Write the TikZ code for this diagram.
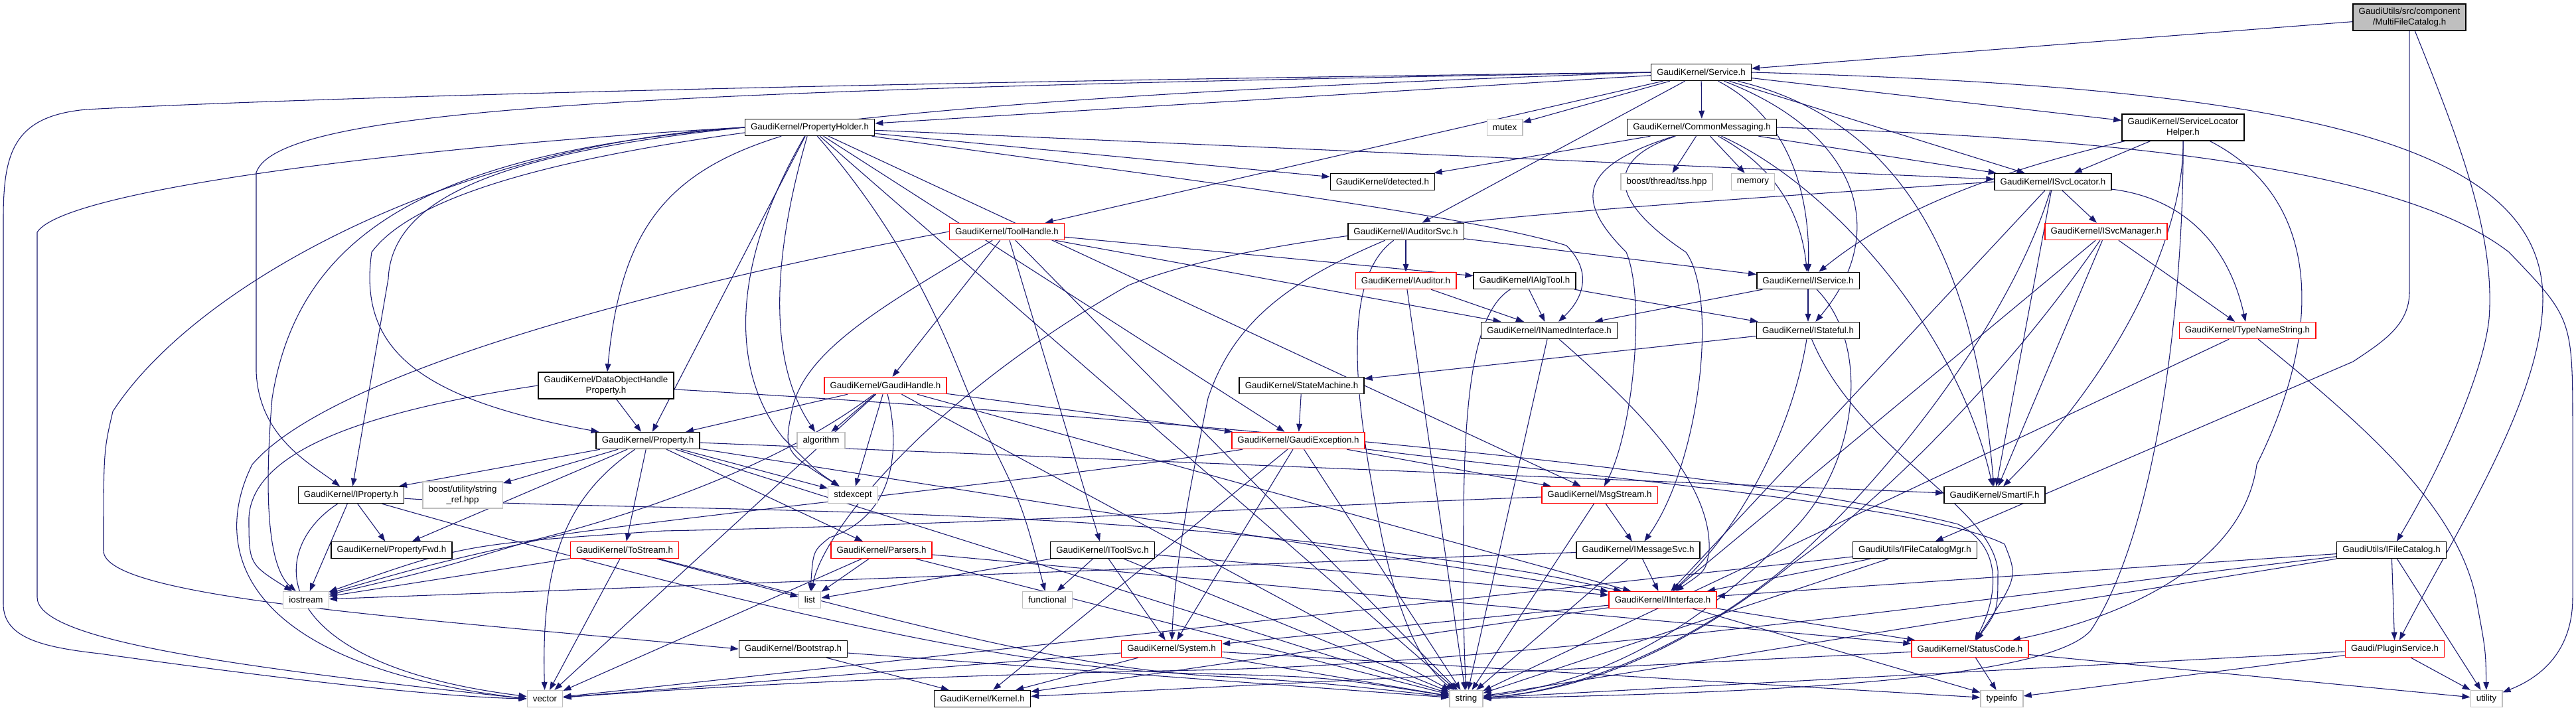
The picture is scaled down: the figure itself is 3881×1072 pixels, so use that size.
\documentclass[tikz,border=0pt]{standalone}
\usepackage{fontspec}
\setmainfont{Liberation Sans}
\usetikzlibrary{arrows.meta}
\definecolor{edgecol}{HTML}{191970}
\definecolor{syscol}{HTML}{BFBFBF}
\definecolor{rootfill}{HTML}{BFBFBF}
\definecolor{trunc}{HTML}{FF0000}
\pgfdeclarelayer{bg}
\pgfsetlayers{bg,main}
\begin{document}
\begin{tikzpicture}[x=0.75pt,y=-0.75pt,
  hbox/.style={draw=black,line width=1.1pt,fill=white,font=\fontsize{10}{12}\selectfont,
    inner xsep=6.5pt,inner ysep=1pt,minimum height=18.75pt,align=center},
  redbox/.style={hbox,draw=trunc},
  sysbox/.style={hbox,draw=syscol,line width=1pt},
  rootbox/.style={hbox,fill=rootfill},
  twoline/.style={minimum height=30pt},
  edge/.style={draw=edgecol,line width=0.8pt,-{Triangle[length=9pt,width=6.5pt]}}]
\useasboundingbox (0,0) rectangle (3881,1072);
% nodes
\node[rootbox,twoline] (mfc) at (3630,26) {GaudiUtils/src/component\\/MultiFileCatalog.h};
\node[hbox] (service) at (2563,109) {GaudiKernel/Service.h};
\node[hbox] (propholder) at (1220,192) {GaudiKernel/PropertyHolder.h};
\node[sysbox] (mutex) at (2267,192) {mutex};
\node[hbox] (commsg) at (2564,192) {GaudiKernel/CommonMessaging.h};
\node[hbox,twoline] (slh) at (3289,192) {GaudiKernel/ServiceLocator\\Helper.h};
\node[hbox] (detected) at (2083,274) {GaudiKernel/detected.h};
\node[sysbox] (tss) at (2511,274) {boost/thread/tss.hpp};
\node[sysbox] (memory) at (2641,274) {memory};
\node[hbox] (isvcloc) at (3093,274) {GaudiKernel/ISvcLocator.h};
\node[redbox] (toolhandle) at (1517,349) {GaudiKernel/ToolHandle.h};
\node[hbox] (iauditorsvc) at (2118,349) {GaudiKernel/IAuditorSvc.h};
\node[redbox] (isvcmgr) at (3173,349) {GaudiKernel/ISvcManager.h};
\node[redbox] (iauditor) at (2118,423) {GaudiKernel/IAuditor.h};
\node[hbox] (ialgtool) at (2297,423) {GaudiKernel/IAlgTool.h};
\node[hbox] (iservice) at (2724,423) {GaudiKernel/IService.h};
\node[hbox] (inamed) at (2334,498) {GaudiKernel/INamedInterface.h};
\node[hbox] (istateful) at (2724,498) {GaudiKernel/IStateful.h};
\node[redbox] (typename) at (3386,498) {GaudiKernel/TypeNameString.h};
\node[hbox,twoline] (dohp) at (913,581) {GaudiKernel/DataObjectHandle\\Property.h};
\node[redbox] (gaudihandle) at (1334,581) {GaudiKernel/GaudiHandle.h};
\node[hbox] (statemachine) at (1961,581) {GaudiKernel/StateMachine.h};
\node[hbox] (property) at (976,664) {GaudiKernel/Property.h};
\node[sysbox] (algorithm) at (1237,664) {algorithm};
\node[redbox] (gexception) at (1956,664) {GaudiKernel/GaudiException.h};
\node[hbox] (iproperty) at (529,746) {GaudiKernel/IProperty.h};
\node[sysbox,twoline] (stringref) at (697,746) {boost/utility/string\\\_ref.hpp};
\node[sysbox] (stdexcept) at (1285,746) {stdexcept};
\node[redbox] (msgstream) at (2410,746) {GaudiKernel/MsgStream.h};
\node[hbox] (smartif) at (3005,746) {GaudiKernel/SmartIF.h};
\node[hbox] (propfwd) at (590,829) {GaudiKernel/PropertyFwd.h};
\node[redbox] (tostream) at (941,829) {GaudiKernel/ToStream.h};
\node[redbox] (parsers) at (1328,829) {GaudiKernel/Parsers.h};
\node[hbox] (itoolsvc) at (1661,829) {GaudiKernel/IToolSvc.h};
\node[hbox] (imsgsvc) at (2468,829) {GaudiKernel/IMessageSvc.h};
\node[hbox] (ifcmgr) at (2885,829) {GaudiUtils/IFileCatalogMgr.h};
\node[hbox] (ifilecat) at (3603,829) {GaudiUtils/IFileCatalog.h};
\node[sysbox] (iostream) at (461,904) {iostream};
\node[sysbox] (list) at (1220,904) {list};
\node[sysbox] (functional) at (1578,904) {functional};
\node[redbox] (iinterface) at (2505,904) {GaudiKernel/IInterface.h};
\node[hbox] (bootstrap) at (1195,978) {GaudiKernel/Bootstrap.h};
\node[redbox] (system) at (1765,978) {GaudiKernel/System.h};
\node[redbox] (statuscode) at (2968,978) {GaudiKernel/StatusCode.h};
\node[redbox] (pluginsvc) at (3608,978) {Gaudi/PluginService.h};
\node[sysbox] (vector) at (821,1053) {vector};
\node[hbox] (kernel) at (1480,1053) {GaudiKernel/Kernel.h};
\node[sysbox] (string) at (2209,1053) {string};
\node[sysbox] (typeinfo) at (3016,1053) {typeinfo};
\node[sysbox] (utility) at (3746,1053) {utility};
% edges
\begin{pgfonlayer}{bg}
\fill[white] (0,0) rectangle (3881,1072);
\foreach \a/\b in {mfc/service,
  service/propholder,service/mutex,service/commsg,service/iauditorsvc,service/toolhandle,
  service/isvcloc,service/slh,
  propholder/property,propholder/string,propholder/detected,propholder/isvcloc,
  propholder/gexception,propholder/msgstream,
  commsg/detected,commsg/tss,commsg/memory,commsg/isvcloc,
  slh/isvcloc,
  isvcloc/iinterface,isvcloc/isvcmgr,isvcloc/smartif,
  isvcmgr/iinterface,isvcmgr/smartif,isvcmgr/typename,
  typename/string,
  toolhandle/gaudihandle,toolhandle/itoolsvc,toolhandle/string,
  toolhandle/inamed,toolhandle/ialgtool,
  iauditorsvc/iauditor,iauditorsvc/iservice,
  iauditor/inamed,iauditor/string,
  ialgtool/inamed,ialgtool/istateful,
  iservice/inamed,iservice/istateful,
  istateful/statemachine,
  inamed/string,
  statemachine/gexception,
  gaudihandle/property,gaudihandle/vector,gaudihandle/algorithm,
  gaudihandle/stdexcept,gaudihandle/string,gaudihandle/iinterface,gaudihandle/gexception,
  dohp/property,
  property/iproperty,property/stringref,property/propfwd,property/tostream,
  property/smartif,property/iinterface,property/parsers,property/stdexcept,property/string,
  iproperty/iostream,iproperty/propfwd,
  tostream/iostream,tostream/vector,tostream/list,
  parsers/list,parsers/vector,parsers/string,parsers/statuscode,
  itoolsvc/list,itoolsvc/functional,itoolsvc/string,itoolsvc/system,itoolsvc/iinterface,
  bootstrap/kernel,bootstrap/string,
  system/vector,system/kernel,system/string,system/typeinfo,
  gexception/kernel,gexception/system,gexception/string,gexception/msgstream,
  msgstream/string,msgstream/imsgsvc,
  imsgsvc/iinterface,imsgsvc/string,imsgsvc/iostream,
  ifcmgr/iinterface,ifcmgr/string,ifcmgr/vector,
  ifilecat/iinterface,ifilecat/string,ifilecat/pluginsvc,ifilecat/utility,
  pluginsvc/string,pluginsvc/typeinfo,pluginsvc/utility,
  statuscode/utility,statuscode/kernel,statuscode/typeinfo,
  iinterface/kernel,iinterface/system,iinterface/statuscode,iinterface/typeinfo}
  \draw[edge] (\a) -- (\b);
% routed edges: upper right
\draw[edge] (service) .. controls (2700,180) and (2727,300) .. (iservice);
\draw[edge] (service) .. controls (2800,200) and (2850,350) .. (istateful);
\draw[edge] (commsg) .. controls (2690,260) and (2715,340) .. (iservice);
\draw[edge] (service) .. controls (2900,190) and (2980,450) .. (smartif);
\draw[edge] (commsg) .. controls (2760,280) and (2950,500) .. (smartif);
\draw[edge] (commsg) .. controls (2420,240) and (2420,300) .. (2540,380)
  .. controls (2590,450) and (2560,700) .. (imsgsvc);
\draw[edge] (commsg) .. controls (2380,250) and (2370,300) .. (2450,380)
  .. controls (2480,450) and (2460,650) .. (msgstream);
\draw[edge] (slh) .. controls (3000,260) and (2850,320) .. (iservice);
\draw[edge] (slh) .. controls (3290,350) and (3200,550) .. (smartif);
\draw[edge] (slh) .. controls (3290,450) and (3250,800) .. (3150,950)
  .. controls (3080,1030) and (2600,1045) .. (string);
\draw[edge] (slh) .. controls (3500,300) and (3500,500) .. (3400,700)
  .. controls (3380,850) and (3200,930) .. (statuscode);
\draw[edge] (isvcloc) .. controls (3300,300) and (3360,380) .. (typename);
\draw[edge] (isvcloc) .. controls (3040,450) and (2900,650) .. (2750,800)
  .. controls (2600,950) and (2400,1040) .. (string);
\draw[edge] (isvcmgr) .. controls (3000,600) and (2800,780) .. (2700,850)
  .. controls (2550,970) and (2400,1040) .. (string);
\draw[edge] (typename) .. controls (3560,640) and (3700,760) .. (3730,900)
  .. controls (3745,980) .. (utility);
\draw[edge] (istateful) .. controls (2700,650) and (2620,800) .. (iinterface);
\draw[edge] (istateful) .. controls (2800,680) and (3000,760) .. (3010,860)
  .. controls (3010,920) .. (statuscode);
\draw[edge] (iservice) .. controls (2820,520) and (2800,700) .. (2700,800)
  .. controls (2550,960) and (2400,1030) .. (string);
\draw[edge] (inamed) .. controls (2450,600) and (2580,720) .. (2575,830)
  .. controls (2570,860) .. (iinterface);
\draw[edge] (ialgtool) .. controls (2220,470) and (2205,600) .. (2205,800)
  .. controls (2205,950) .. (string);
\draw[edge] (iauditorsvc) .. controls (1950,420) and (1860,480) .. (1820,600)
  .. controls (1790,750) and (1770,850) .. (system);
\draw[edge] (iauditorsvc) .. controls (2020,420) and (2040,600) .. (2080,800)
  .. controls (2110,950) and (2150,1010) .. (string);
\draw[edge] (gexception) .. controls (2400,720) and (2900,760) .. (3020,820)
  .. controls (3040,870) .. (statuscode);
\draw[edge] (dohp) .. controls (1600,620) and (2600,700) .. (2950,790)
  .. controls (3030,830) and (3000,920) .. (statuscode);
% routed edges: middle and left
\draw[edge] (propholder) .. controls (1700,260) and (2200,320) .. (2360,370)
  .. controls (2400,410) and (2385,450) .. (inamed);
\draw[edge] (propholder) .. controls (1400,400) and (1440,560) .. (1480,640)
  .. controls (1540,760) .. (functional);
\draw[edge] (propholder) .. controls (1100,400) and (1100,560) .. (1180,660)
  .. controls (1230,710) .. (stdexcept);
\draw[edge] (propholder) .. controls (1160,400) and (1160,550) .. (algorithm);
\draw[edge] (toolhandle) .. controls (1350,450) and (1220,520) .. (1195,610)
  .. controls (1180,680) .. (stdexcept);
\draw[edge] (gaudihandle) .. controls (1360,690) and (1340,780) .. (1250,810)
  .. controls (1225,830) .. (list);
\draw[edge] (gaudihandle) .. controls (1150,720) and (900,790) .. (800,815)
  .. controls (650,860) .. (iostream);
\draw[edge] (gexception) .. controls (1600,720) and (1100,770) .. (850,805)
  .. controls (650,850) .. (iostream);
\draw[edge] (msgstream) .. controls (2000,760) and (1500,790) .. (1000,800)
  .. controls (700,820) .. (iostream);
\draw[edge] (property) .. controls (850,750) and (815,850) .. (vector);
\draw[edge] (iproperty) .. controls (400,830) and (400,1000) .. (vector);
\draw[edge] (iproperty) .. controls (900,770) and (1500,760) .. (2000,820)
  .. controls (2300,860) .. (iinterface);
\draw[edge] (iproperty) .. controls (1000,880) and (1500,1010) .. (1800,1015)
  .. controls (2000,1020) .. (string);
\draw[edge] (tostream) .. controls (1300,920) and (1600,1010) .. (1850,1020)
  .. controls (2000,1030) .. (string);
\draw[edge] (ifilecat) .. controls (3000,900) and (2300,1000) .. (1800,1010)
  .. controls (1300,1020) and (1000,1040) .. (vector);
\draw[edge] (dohp.west) .. controls (550,620) and (380,680) .. (375,780)
  .. controls (375,850) .. (iostream);
% routed edges: long outer ones
\draw[edge] (service.west) .. controls (1200,125) and (400,150) .. (130,165)
  .. controls (20,175) and (5,230) .. (5,330) -- (5,910)
  .. controls (5,960) and (60,975) .. (150,985) .. controls (400,1020) and (650,1050) .. (vector.west);
\draw[edge] (service.west) .. controls (1000,135) and (420,160) .. (386,260) -- (386,560)
  .. controls (390,660) and (470,700) .. (iproperty);
\draw[edge] (service.west) .. controls (1600,140) and (700,190) .. (560,380)
  .. controls (540,520) and (620,600) .. (property);
\draw[edge] (service.east) .. controls (3400,130) and (3831,200) .. (3831,450)
  .. controls (3831,600) and (3700,800) .. (pluginsvc);
\draw[edge] (propholder.west) .. controls (700,215) and (100,280) .. (56,350) -- (56,900)
  .. controls (56,960) and (300,1000) .. (vector.west);
\draw[edge] (propholder.west) .. controls (700,215) and (300,420) .. (170,620)
  .. controls (156,680) .. (156,830) .. controls (156,900) and (600,930) .. (bootstrap.west);
\draw[edge] (propholder.west) .. controls (650,230) and (450,350) .. (410,600)
  .. controls (395,780) and (410,860) .. (iostream);
\draw[edge] (propholder.west) .. controls (750,230) and (590,300) .. (585,420) -- (iproperty);
\draw[edge] (propholder) .. controls (1000,260) and (935,350) .. (dohp);
\draw[edge] (mfc) -- (3630,440) .. controls (3630,490) and (3590,515) .. (3545,545) -- (ifcmgr);
\draw[edge] (mfc) .. controls (3700,200) and (3760,350) .. (3750,480)
  .. controls (3742,560) and (3680,700) .. (ifilecat);
\draw[edge] (commsg.east) .. controls (3100,205) and (3600,240) .. (3780,380)
  .. controls (3876,480) .. (3876,650) -- (3876,900)
  .. controls (3876,980) and (3830,1020) .. (utility);
\draw[edge] (toolhandle.west) .. controls (1000,430) and (500,560) .. (380,700)
  .. controls (320,820) and (350,1000) .. (vector.west);
\draw[edge] (isvcloc.west) .. controls (2300,320) and (1900,350) .. (1700,430)
  .. controls (1400,600) and (1240,800) .. (list);
\end{pgfonlayer}
\end{tikzpicture}
\end{document}
